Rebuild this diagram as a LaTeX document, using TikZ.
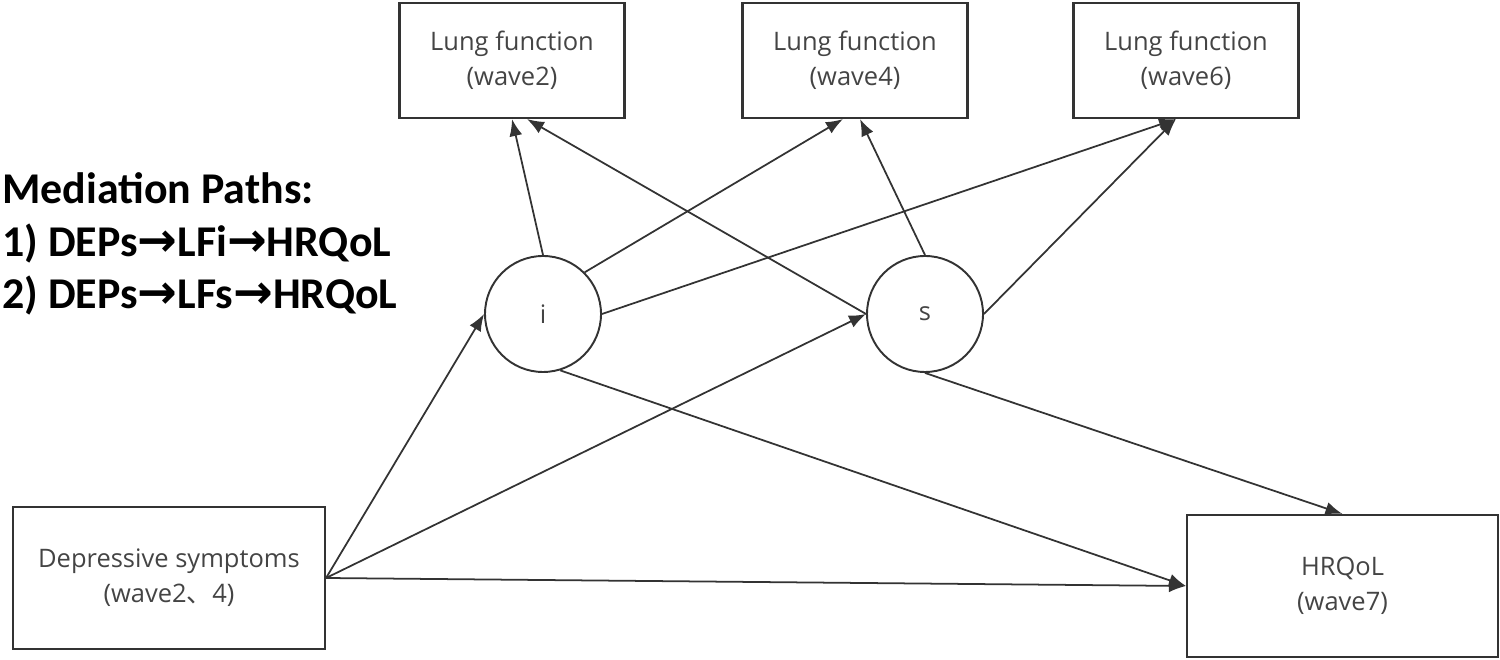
\documentclass[tikz,border=0pt]{standalone}
\usepackage{fontspec}
\setmainfont{Open Sans}
\newfontfamily\calfont{Carlito}
\newfontfamily\symfont{DejaVu Sans}
\newfontfamily\cjk{Noto Sans CJK SC}
\usetikzlibrary{arrows.meta}
\usetikzlibrary{calc}
\definecolor{linegray}{HTML}{333333}
\definecolor{textgray}{HTML}{444444}
\newcommand{\goesto}{{\symfont\bfseries\fontsize{27}{30}\selectfont →}}

\begin{document}
\begin{tikzpicture}[
    box/.style={draw=linegray, line width=1.2pt, minimum width=4.5cm, minimum height=2.3cm,
      align=center, text=textgray, font=\fontsize{14.5}{20}\selectfont},
    latent/.style={draw=linegray, line width=1.1pt, circle, minimum size=2.32cm,
      text=textgray, font=\fontsize{14.5}{20}\selectfont},
    conn/.style={draw=linegray, line width=1pt, -{Latex[length=3.4mm,width=2.6mm]}},
    note/.style={anchor=base west, inner sep=0pt, font=\calfont\bfseries\fontsize{25}{28}\selectfont}
  ]
                \useasboundingbox (0,0) rectangle (30,13.2);

                % Define the nodes
                \node[box] (lf2) at (10.24,11.99) {Lung function\\(wave2)};
                \node[box] (lf4) at (17.1,11.99) {Lung function\\(wave4)};
                \node[box] (lf6) at (23.72,11.99) {Lung function\\(wave6)};
                \node[latent] (i) at (10.86,6.92) {i};
                \node[latent] (s) at (18.5,6.92) {s};
                \node[box, minimum width=6.24cm, minimum height=2.84cm] (dep) at (3.38,1.64) {Depressive symptoms\\(wave2{\cjk 、}4)};
                \node[box, minimum width=6.22cm, minimum height=2.84cm] (hrqol) at (26.85,1.48) {HRQoL\\(wave7)};

                % Mediation paths
                \node[note] (title) at (0.04,9.12) {Mediation Paths:};
                \node[note] (path1) at (0.04,8.06) {1) DEPs\goesto LFi\goesto HRQoL};
                \node[note] (path2) at (0.04,7.02) {2) DEPs\goesto LFs\goesto HRQoL};

                % Draw the arrows
                \draw[conn] (dep.east) -- (i.west);
                \draw[conn] (dep.east) -- (s.west);
                \draw[conn] (dep.east) -- (hrqol.west);
                \draw[conn] (i.north) -- (lf2.south);
                \draw[conn] (i.45) -- ([xshift=-0.24cm]lf4.south);
                \draw[conn] (i.east) -- ([xshift=-0.2cm]lf6.south);
                \draw[conn] (i.-73) -- (hrqol.west);
                \draw[conn] (s.west) -- ([xshift=0.3cm]lf2.south);
                \draw[conn] (s.north) -- ([xshift=0.1cm]lf4.south);
                \draw[conn] (s.east) -- ([xshift=-0.2cm]lf6.south);
                \draw[conn] (s.south) -- (hrqol.north);
            \end{tikzpicture}
\end{document}
